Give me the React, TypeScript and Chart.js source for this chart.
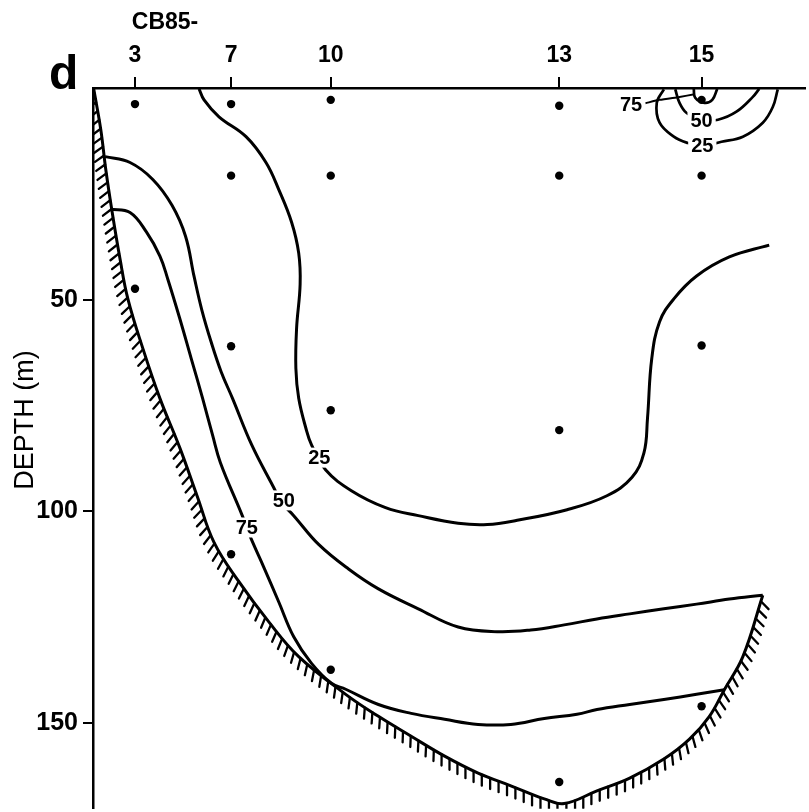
import { useEffect, useRef } from "react";
import { Chart, registerables } from "chart.js";

Chart.register(...registerables);

const W = 809;
const H = 812;
const FONT = "'Liberation Sans', Arial, sans-serif";

// Stations along the section (distance units) and their labels
const stationNames = ["3", "7", "10", "13", "15"];
const stationDist = [5.9, 19.4, 33.4, 65.5, 85.5];
const depthTicks = [50, 100, 150];

// Sample depths (m) at each station
const samples3 = [3.8, 47.4];
const samples7 = [3.8, 20.7, 61.0, 110.1];
const samples10 = [2.8, 20.7, 76.1, 137.4];
const samples13 = [4.2, 20.7, 80.8, 163.9];
const samples15 = [2.8, 20.7, 60.8, 146.0];

// Contours: [distance, depth]
const contour25 = [
  [14.9, 0.2], [15.6, 2.8], [17.7, 6.8], [21.5, 11.5], [24.3, 17.6], [26.1, 24.0],
  [27.9, 31.7], [28.9, 39.0], [29.1, 46.3], [28.6, 56.8], [28.5, 66.2], [28.9, 73.3],
  [29.9, 80.3], [30.7, 84.3], [32.7, 90.2], [36.3, 95.1], [41.1, 99.1], [45.7, 101.0],
  [51.3, 102.8], [55.4, 103.1], [59.6, 102.1], [66.6, 99.6], [72.2, 96.3], [75.7, 92.0],
  [77.4, 86.2], [77.9, 78.0], [78.5, 63.9], [79.6, 55.2], [81.6, 49.8],
  [84.8, 44.4], [89.4, 39.9], [95.0, 37.1],
];
const contour50 = [
  [1.7, 16.2], [5.2, 17.6], [8.4, 21.6], [11.1, 27.7], [13.0, 35.0], [14.2, 44.5],
  [15.3, 52.5], [16.6, 60.0], [18.0, 67.0], [19.6, 73.3], [22.3, 84.3], [25.4, 94.4], [26.5, 97.9],
  [28.2, 101.0], [31.7, 107.8], [35.9, 113.6], [40.1, 118.3], [45.7, 123.0], [51.3, 127.3],
  [56.8, 128.4], [61.5, 128.0], [66.2, 126.8], [70.8, 125.4], [75.4, 124.2], [80.2, 123.0],
  [84.8, 121.9], [89.4, 120.7], [94.1, 119.8],
];
const contour75 = [
  [2.4, 28.6], [5.2, 29.4], [7.5, 34.0], [9.4, 39.7], [10.5, 45.1], [12.2, 54.5],
  [13.8, 63.9], [15.4, 73.3], [16.8, 82.0], [17.9, 88.5], [20.9, 100.7], [21.6, 103.8], [22.3, 106.8],
  [24.0, 113.2], [26.1, 121.4], [28.2, 129.6], [30.7, 135.9], [33.5, 140.6], [35.5, 142.0],
  [40.1, 145.6], [44.7, 147.7], [49.4, 149.1], [54.1, 150.3], [58.7, 150.3], [63.4, 148.9],
  [68.0, 147.9], [70.8, 146.8], [75.4, 145.6], [80.2, 144.4], [84.8, 143.2], [88.7, 142.1],
];
const contour25Top = [
  [80.2, 0.3], [79.2, 3.5], [79.6, 8.2], [81.6, 11.5], [83.4, 12.9], [85.6, 13.6],
  [88.3, 12.7], [91.3, 11.5], [94.1, 8.2], [95.5, 4.5], [96.2, 0.3],
];
const contour50Top = [
  [81.8, 0.3], [82.4, 3.5], [83.4, 5.9], [85.5, 7.5], [87.8, 7.5], [90.4, 5.6],
  [92.7, 2.1], [93.6, 0.2],
];
const contour75Top = [
  [84.4, 0.2], [84.6, 2.3], [85.9, 3.5], [87.0, 2.8], [87.7, 0.2],
];
const leader75 = [
  [77.6, 3.6], [79.6, 2.8], [82.4, 2.1], [84.5, 1.5],
];

// Sea floor profile
const seafloor = [
  [0.1, 0.2], [1.1, 9.9], [1.8, 19.3], [2.7, 29.4], [3.8, 40.4], [4.9, 49.8],
  [7.0, 61.5], [9.4, 73.3], [12.2, 85.0], [14.7, 96.7], [17.0, 107.3], [20.5, 116.6],
  [24.7, 126.1], [28.9, 134.3], [35.5, 143.2], [40.1, 148.4], [44.7, 153.1], [49.4, 157.8],
  [54.1, 161.8], [58.7, 164.8], [63.4, 167.9], [66.2, 169.0], [70.8, 166.0], [75.4, 163.0],
  [80.2, 158.5], [83.8, 153.8], [86.6, 148.4], [88.7, 142.1], [91.3, 134.3], [94.1, 119.8],
];

// Contour labels: text, distance, depth
const labelTexts = ["25", "50", "75", "75", "50", "25"];
const labelDist = [31.8, 26.8, 21.6, 75.6, 85.5, 85.6];
const labelDepth = [87.3, 97.4, 103.8, 4.0, 7.7, 13.6];

export default function App() {
  const ref = useRef<HTMLCanvasElement>(null);

  useEffect(() => {
    const canvas = ref.current!;
    const toPts = (a: number[][]) => a.map(([x, y]) => ({ x, y }));
    const line = (d: number[][], extra: any = {}) => ({
      data: toPts(d),
      showLine: true,
      borderColor: "#000",
      borderWidth: 3,
      pointRadius: 0,
      pointHoverRadius: 0,
      tension: 0.4,
      fill: false,
      ...extra,
    });

    const dots: { x: number; y: number }[] = [];
    [samples3, samples7, samples10, samples13, samples15].forEach((arr, i) =>
      arr.forEach((d) => dots.push({ x: stationDist[i], y: d }))
    );

    const datasets: any[] = [
      line(contour25),
      line(contour50),
      line(contour75),
      line(contour25Top, { borderWidth: 2.7 }),
      line(contour50Top, { borderWidth: 2.7 }),
      line(contour75Top, { borderWidth: 2.7 }),
      line(leader75, { tension: 0.2, borderWidth: 2 }),
      line(seafloor, { tension: 0.4 }),
      {
        data: dots,
        showLine: false,
        pointRadius: 4.2,
        pointHoverRadius: 4.2,
        pointBackgroundColor: "#000",
        pointBorderColor: "#000",
        pointBorderWidth: 0,
      },
    ];
    const profileIndex = 7;

    const hatchPlugin = {
      id: "hatch",
      afterDatasetsDraw(chart: any) {
        const pts = chart.getDatasetMeta(profileIndex).data as any[];
        const ctx = chart.ctx as CanvasRenderingContext2D;
        const ca = chart.chartArea;
        const s: number[][] = [];
        for (let i = 0; i < pts.length - 1; i++) {
          const p0 = pts[i], p1 = pts[i + 1];
          const c1x = p0.cp2x ?? p0.x, c1y = p0.cp2y ?? p0.y;
          const c2x = p1.cp1x ?? p1.x, c2y = p1.cp1y ?? p1.y;
          for (let k = 0; k < 24; k++) {
            const t = k / 24, u = 1 - t;
            const x = u * u * u * p0.x + 3 * u * u * t * c1x + 3 * u * t * t * c2x + t * t * t * p1.x;
            const y = u * u * u * p0.y + 3 * u * u * t * c1y + 3 * u * t * t * c2y + t * t * t * p1.y;
            s.push([x, y]);
          }
        }
        const last = pts[pts.length - 1];
        s.push([last.x, last.y]);
        ctx.save();
        ctx.beginPath();
        ctx.rect(ca.left + 1, ca.top + 1, ca.right - ca.left, ca.bottom - ca.top);
        ctx.clip();
        ctx.strokeStyle = "#000";
        ctx.lineWidth = 2.3;
        ctx.lineCap = "round";
        const spacing = 9, len = 11;
        let next = spacing / 2;
        for (let i = 1; i < s.length; i++) {
          const [x0, y0] = s[i - 1], [x1, y1] = s[i];
          const seg = Math.hypot(x1 - x0, y1 - y0);
          if (seg === 0) continue;
          const tx = (x1 - x0) / seg, ty = (y1 - y0) / seg;
          let d = next;
          while (d <= seg) {
            const hx = x0 + tx * d, hy = y0 + ty * d;
            const a = Math.atan2(tx, -ty);
            let diff = Math.PI / 2 - a;
            while (diff > Math.PI) diff -= 2 * Math.PI;
            while (diff < -Math.PI) diff += 2 * Math.PI;
            const rot = Math.max(-0.5, Math.min(0.5, diff));
            const ang = a + rot;
            ctx.beginPath();
            ctx.moveTo(hx, hy);
            ctx.lineTo(hx + Math.cos(ang) * len, hy + Math.sin(ang) * len);
            ctx.stroke();
            d += spacing;
          }
          next = d - seg;
        }
        ctx.restore();
      },
    };

    const labelPlugin = {
      id: "contourLabels",
      afterDatasetsDraw(chart: any) {
        const ctx = chart.ctx as CanvasRenderingContext2D;
        const xs = chart.scales.x, ys = chart.scales.y;
        ctx.save();
        ctx.font = `bold 20px ${FONT}`;
        ctx.textAlign = "center";
        ctx.textBaseline = "middle";
        labelTexts.forEach((t, i) => {
          const px = xs.getPixelForValue(labelDist[i]);
          const py = ys.getPixelForValue(labelDepth[i]);
          const w = ctx.measureText(t).width;
          ctx.fillStyle = "#fff";
          ctx.fillRect(px - w / 2 - 3, py - 10, w + 6, 20);
          ctx.fillStyle = "#000";
          ctx.fillText(t, px, py + 1);
        });
        ctx.restore();
      },
    };

    const textPlugin = {
      id: "texts",
      afterDraw(chart: any) {
        const ctx = chart.ctx as CanvasRenderingContext2D;
        ctx.save();
        ctx.fillStyle = "#000";
        ctx.font = `bold 48px ${FONT}`;
        ctx.textAlign = "left";
        ctx.textBaseline = "alphabetic";
        ctx.fillText("d", 49, 89);
        ctx.font = `bold 23px ${FONT}`;
        ctx.textAlign = "center";
        ctx.textBaseline = "middle";
        ctx.fillText("CB85-", 165, 23);
        ctx.translate(26, 420);
        ctx.rotate(-Math.PI / 2);
        ctx.font = `27px ${FONT}`;
        ctx.fillText("DEPTH (m)", 0, 0);
        ctx.restore();
      },
    };

    const chart = new Chart(canvas, {
      type: "scatter",
      data: { datasets },
      options: {
        animation: false,
        responsive: false,
        maintainAspectRatio: false,
        events: [],
        layout: { padding: 0 },
        plugins: { legend: { display: false }, tooltip: { enabled: false } },
        scales: {
          x: {
            type: "linear",
            position: "top",
            min: 0,
            max: 100,
            afterBuildTicks: (scale: any) => {
              scale.ticks = stationDist.map((v) => ({ value: v }));
            },
            afterFit: (scale: any) => {
              scale.height = 88;
              scale.paddingLeft = 0;
              scale.paddingRight = 0;
            },
            ticks: {
              autoSkip: false,
              maxRotation: 0,
              padding: 8,
              color: "#000",
              font: { family: FONT, size: 23, weight: "bold" },
              callback: (_v: any, i: number) => stationNames[i],
            },
            grid: {
              display: true,
              drawOnChartArea: false,
              drawTicks: true,
              tickLength: 11,
              color: "#000",
              lineWidth: 2,
            },
            border: { display: true, color: "#000", width: 2.5 },
          },
          y: {
            type: "linear",
            position: "left",
            reverse: true,
            min: 0,
            max: 170,
            afterBuildTicks: (scale: any) => {
              scale.ticks = depthTicks.map((v) => ({ value: v }));
            },
            afterFit: (scale: any) => {
              scale.width = 93;
              scale.paddingTop = 0;
              scale.paddingBottom = 0;
            },
            ticks: {
              padding: 5,
              color: "#000",
              font: { family: FONT, size: 25, weight: "bold" },
            },
            grid: {
              display: true,
              drawOnChartArea: false,
              drawTicks: true,
              tickLength: 10,
              color: "#000",
              lineWidth: 2,
            },
            border: { display: true, color: "#000", width: 2.5 },
          },
        },
      } as any,
      plugins: [hatchPlugin, labelPlugin, textPlugin],
    });

    return () => chart.destroy();
  }, []);

  return (
    <div style={{ position: "fixed", left: 0, top: 0, width: W, height: H, background: "#fff" }}>
      <canvas ref={ref} width={W} height={H} style={{ display: "block" }} />
    </div>
  );
}
